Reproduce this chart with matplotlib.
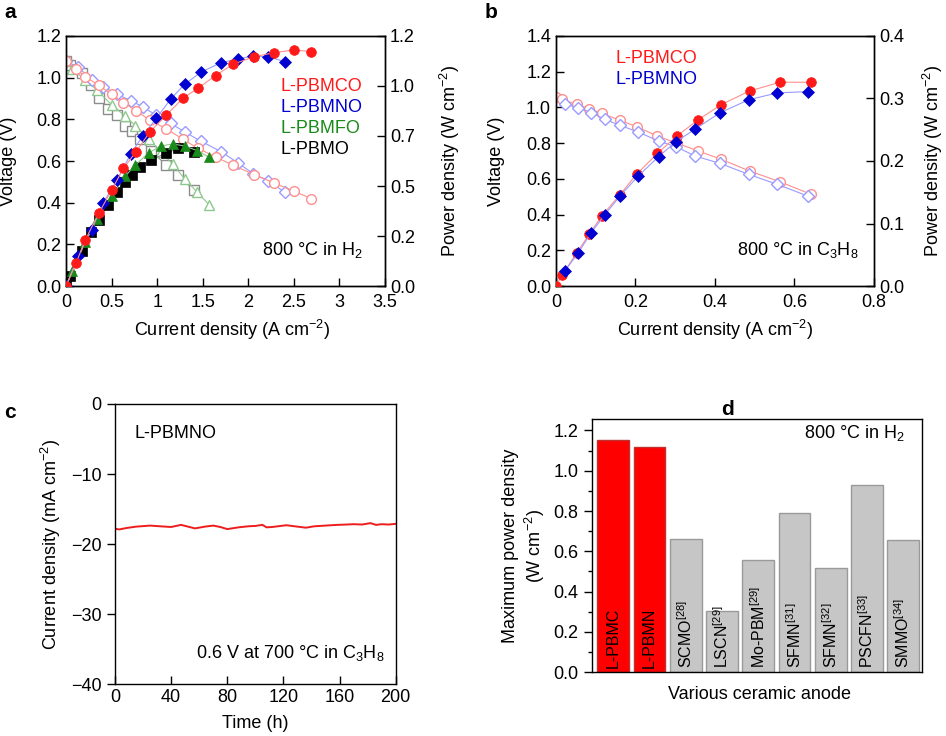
import numpy as np
import matplotlib
matplotlib.use("Agg")
import matplotlib.pyplot as plt

plt.rcParams['font.family'] = ['Liberation Sans', 'DejaVu Sans']
plt.rcParams['font.size'] = 13
plt.rcParams['mathtext.fontset'] = 'custom'
plt.rcParams['mathtext.rm'] = 'Liberation Sans'
plt.rcParams['mathtext.it'] = 'Liberation Sans:italic'
plt.rcParams['mathtext.bf'] = 'Liberation Sans:bold'
plt.rcParams['mathtext.default'] = 'regular'
plt.rcParams['axes.linewidth'] = 1.0

# ---- panel a : I-V-P curves at 800 C in H2 ----
a_pbmco_i = [0, 0.11, 0.21, 0.36, 0.5, 0.63, 0.77, 0.92, 1.10, 1.28, 1.45, 1.64, 1.83, 2.06, 2.28, 2.5, 2.69]
a_pbmco_v = [1.08, 1.04, 1.005, 0.963, 0.92, 0.88, 0.842, 0.795, 0.755, 0.705, 0.66, 0.62, 0.58, 0.535, 0.495, 0.455, 0.42]
a_pbmco_p = [0, 0.11, 0.22, 0.35, 0.46, 0.565, 0.645, 0.74, 0.82, 0.90, 0.95, 1.01, 1.064, 1.10, 1.12, 1.133, 1.125]

a_pbmno_i = [0, 0.135, 0.28, 0.41, 0.56, 0.71, 0.84, 0.99, 1.15, 1.30, 1.48, 1.70, 1.89, 2.05, 2.22, 2.40]
a_pbmno_v = [1.08, 1.05, 0.99, 0.955, 0.92, 0.89, 0.86, 0.82, 0.78, 0.74, 0.695, 0.645, 0.59, 0.54, 0.505, 0.45]
a_pbmno_p = [0, 0.144, 0.27, 0.40, 0.51, 0.634, 0.72, 0.805, 0.898, 0.968, 1.026, 1.072, 1.09, 1.104, 1.10, 1.077]

a_pbmfo_i = [0, 0.07, 0.21, 0.34, 0.5, 0.65, 0.76, 0.91, 1.04, 1.17, 1.30, 1.44, 1.57]
a_pbmfo_v = [1.08, 1.04, 0.99, 0.94, 0.87, 0.815, 0.77, 0.705, 0.645, 0.585, 0.515, 0.45, 0.39]
a_pbmfo_p = [0, 0.07, 0.21, 0.32, 0.43, 0.528, 0.58, 0.64, 0.672, 0.682, 0.672, 0.65, 0.618]

a_pbmo_i = [0, 0.04, 0.17, 0.27, 0.365, 0.46, 0.56, 0.65, 0.72, 0.81, 0.93, 1.10, 1.23, 1.40]
a_pbmo_v = [1.08, 1.06, 1.02, 0.965, 0.90, 0.85, 0.82, 0.77, 0.745, 0.705, 0.65, 0.58, 0.535, 0.46]
a_pbmo_p = [0, 0.05, 0.17, 0.26, 0.317, 0.39, 0.453, 0.498, 0.533, 0.57, 0.605, 0.637, 0.66, 0.645]

# ---- panel b : I-V-P curves at 800 C in C3H8 ----
b_pbmco_i = [0, 0.016, 0.052, 0.084, 0.115, 0.161, 0.203, 0.255, 0.304, 0.358, 0.415, 0.487, 0.563, 0.642]
b_pbmco_v = [1.06, 1.045, 1.017, 0.993, 0.967, 0.928, 0.892, 0.84, 0.80, 0.756, 0.71, 0.644, 0.584, 0.513]
b_pbmco_p = [0, 0.018, 0.053, 0.083, 0.112, 0.146, 0.179, 0.212, 0.24, 0.266, 0.29, 0.312, 0.326, 0.326]

b_pbmno_i = [0.023, 0.056, 0.088, 0.123, 0.161, 0.207, 0.258, 0.302, 0.35, 0.412, 0.485, 0.557, 0.633]
b_pbmno_v = [1.017, 0.999, 0.971, 0.933, 0.90, 0.862, 0.812, 0.78, 0.728, 0.687, 0.625, 0.569, 0.504]
b_pbmno_p = [0.0245, 0.053, 0.085, 0.114, 0.144, 0.176, 0.207, 0.231, 0.251, 0.277, 0.298, 0.309, 0.311]

# ---- panel c : stability at 0.6 V, 700 C in C3H8 ----
c_time = [0, 3, 8, 15, 25, 32, 40, 47, 52, 57, 64, 70, 75, 80, 88, 95, 100, 105, 108, 112,
          122, 128, 136, 142, 150, 158, 165, 170, 176, 182, 186, 190, 195, 200]
c_current = [-17.8, -17.9, -17.7, -17.5, -17.35, -17.45, -17.55, -17.25, -17.5, -17.75, -17.5, -17.35,
             -17.55, -17.85, -17.6, -17.45, -17.4, -17.25, -17.6, -17.55, -17.3, -17.45, -17.65, -17.45,
             -17.35, -17.25, -17.2, -17.15, -17.2, -17.0, -17.25, -17.15, -17.2, -17.1]

# ---- panel d : max power density comparison ----
d_names = ['L-PBMC', 'L-PBMN', 'SCMO$^{[28]}$', 'LSCN$^{[29]}$', 'Mo-PBM$^{[29]}$',
           'SFMN$^{[31]}$', 'SFMN$^{[32]}$', 'PSCFN$^{[33]}$', 'SMMO$^{[34]}$']
d_values = [1.15, 1.12, 0.66, 0.306, 0.557, 0.792, 0.519, 0.93, 0.657]
d_ours = [True, True, False, False, False, False, False, False, False]

RED = '#ff1a1a'
BLUE = '#0000d0'
GREEN = '#1a8a1a'
BLACK = '#000000'
LRED = '#ff8f8f'
LBLUE = '#9a9aff'
LGREEN = '#8fc88f'
LGRAY = '#8c8c8c'

fig = plt.figure(figsize=(9.46, 7.36), dpi=100)


def style_ticks(ax, direction):
    ax.tick_params(direction=direction, length=6, width=1.0, labelsize=13)


def iv_curve(ax, ax2, i, v, p, marker, col, lcol, ms):
    ax.plot(i, v, marker=marker, color=lcol, lw=0.8, ms=ms, mfc='white', mec=lcol, mew=1.0, zorder=2)
    ax2.plot(i, p, marker=marker, color=lcol, lw=0.8, ms=ms, mfc=col, mec=col, mew=0.5, zorder=3)


# ---------------- a ----------------
ax_a = fig.add_axes([0.0698, 0.6114, 0.3372, 0.3397])
ax_a2 = ax_a.twinx()
iv_curve(ax_a, ax_a2, a_pbmo_i, a_pbmo_v, a_pbmo_p, 's', BLACK, LGRAY, 6.5)
iv_curve(ax_a, ax_a2, a_pbmfo_i, a_pbmfo_v, a_pbmfo_p, '^', GREEN, LGREEN, 6.5)
iv_curve(ax_a, ax_a2, a_pbmno_i, a_pbmno_v, a_pbmno_p, 'D', BLUE, LBLUE, 6)
iv_curve(ax_a, ax_a2, a_pbmco_i, a_pbmco_v, a_pbmco_p, 'o', RED, LRED, 7)
ax_a.set_xlim(0, 3.5)
ax_a.set_ylim(0, 1.2)
ax_a2.set_ylim(0, 1.2)
ax_a.set_xticks(np.arange(0, 3.51, 0.5))
ax_a.set_xticklabels(['0', '0.5', '1', '1.5', '2', '2.5', '3', '3.5'])
ax_a.set_yticks(np.arange(0, 1.21, 0.2))
ax_a.set_yticklabels(['%.1f' % t for t in np.arange(0, 1.21, 0.2)])
a_right = np.linspace(0, 1.2, 6)
ax_a2.set_yticks(a_right)
ax_a2.set_yticklabels(['%.1f' % t for t in a_right])
style_ticks(ax_a, 'in')
style_ticks(ax_a2, 'in')
ax_a.tick_params(axis='x', pad=6)
ax_a.set_xlabel('Current density (A cm$^{-2}$)')
ax_a.set_ylabel('Voltage (V)')
ax_a2.set_ylabel('Power density (W cm$^{-2}$)')
ax_a.xaxis.set_label_coords(0.52, -0.128)
ax_a.yaxis.set_label_coords(-0.153, 0.5)
ax_a2.yaxis.set_label_coords(1.166, 0.5)
for y, name, col in zip([0.797, 0.714, 0.631, 0.545],
                        ['L-PBMCO', 'L-PBMNO', 'L-PBMFO', 'L-PBMO'],
                        [RED, BLUE, GREEN, BLACK]):
    ax_a.text(0.671, y, name, color=col, transform=ax_a.transAxes, ha='left', va='center', fontsize=13)
ax_a.text(0.931, 0.144, '800 °C in H$_2$', transform=ax_a.transAxes, ha='right', va='center', fontsize=13)

# ---------------- b ----------------
ax_b = fig.add_axes([0.5877, 0.6114, 0.3362, 0.3397])
ax_b2 = ax_b.twinx()
iv_curve(ax_b, ax_b2, b_pbmco_i, b_pbmco_v, b_pbmco_p, 'o', RED, LRED, 7)
iv_curve(ax_b, ax_b2, b_pbmno_i, b_pbmno_v, b_pbmno_p, 'D', BLUE, LBLUE, 6)
ax_b.set_xlim(0, 0.8)
ax_b.set_ylim(0, 1.4)
ax_b2.set_ylim(0, 0.4)
ax_b.set_xticks(np.arange(0, 0.81, 0.2))
ax_b.set_xticklabels(['0', '0.2', '0.4', '0.6', '0.8'])
ax_b.set_yticks(np.arange(0, 1.41, 0.2))
ax_b.set_yticklabels(['%.1f' % t for t in np.arange(0, 1.41, 0.2)])
ax_b2.set_yticks(np.arange(0, 0.41, 0.1))
ax_b2.set_yticklabels(['%.1f' % t for t in np.arange(0, 0.41, 0.1)])
style_ticks(ax_b, 'in')
style_ticks(ax_b2, 'in')
ax_b.tick_params(axis='x', pad=6)
ax_b.set_xlabel('Current density (A cm$^{-2}$)')
ax_b.set_ylabel('Voltage (V)')
ax_b2.set_ylabel('Power density (W cm$^{-2}$)')
ax_b.xaxis.set_label_coords(0.5, -0.128)
ax_b.yaxis.set_label_coords(-0.16, 0.5)
ax_b2.yaxis.set_label_coords(1.148, 0.5)
ax_b.text(0.186, 0.911, 'L-PBMCO', color=RED, transform=ax_b.transAxes, ha='left', va='center', fontsize=13)
ax_b.text(0.186, 0.824, 'L-PBMNO', color=BLUE, transform=ax_b.transAxes, ha='left', va='center', fontsize=13)
ax_b.text(0.951, 0.144, '800 °C in C$_3$H$_8$', transform=ax_b.transAxes, ha='right', va='center', fontsize=13)

# ---------------- c ----------------
ax_c = fig.add_axes([0.1216, 0.0702, 0.2967, 0.3809])
ax_c.plot(c_time, c_current, color='#ee1c1c', lw=1.4)
ax_c.set_xlim(0, 200)
ax_c.set_ylim(-40, 0)
ax_c.set_xticks(np.arange(0, 201, 40))
ax_c.set_yticks(np.arange(-40, 1, 10))
ax_c.tick_params(axis='y', direction='out', length=6, width=1.0, labelsize=13)
ax_c.tick_params(axis='x', direction='in', length=6, width=1.0, labelsize=13)
ax_c.set_xlabel('Time (h)')
ax_c.set_ylabel('Current density (mA cm$^{-2}$)')
ax_c.xaxis.set_label_coords(0.5, -0.11)
ax_c.yaxis.set_label_coords(-0.185, 0.5)
ax_c.text(0.071, 0.895, 'L-PBMNO', transform=ax_c.transAxes, ha='left', va='center', fontsize=13)
ax_c.text(0.962, 0.111, '0.6 V at 700 °C in C$_3$H$_8$', transform=ax_c.transAxes,
          ha='right', va='center', fontsize=13)

# ---------------- d ----------------
ax_d = fig.add_axes([0.6255, 0.0866, 0.3495, 0.3442])
xpos = np.arange(len(d_values))
fills = ['#ff0000' if o else '#c6c6c6' for o in d_ours]
edges = ['#c03030' if o else '#9a9a9a' for o in d_ours]
ax_d.bar(xpos, d_values, width=0.875, color=fills, edgecolor=edges, linewidth=1.0)
for x, name in zip(xpos, d_names):
    ax_d.text(x, 0.02, name, rotation=90, ha='center', va='bottom', fontsize=11.5)
ax_d.set_xlim(-0.594, 8.53)
ax_d.set_ylim(0, 1.257)
ax_d.set_xticks([])
ax_d.set_yticks(np.arange(0, 1.21, 0.2))
ax_d.set_yticklabels(['%.1f' % t for t in np.arange(0, 1.21, 0.2)])
ax_d.set_yticks(np.arange(0.1, 1.21, 0.2), minor=True)
ax_d.tick_params(axis='y', which='major', direction='out', length=6, width=1.0, labelsize=13)
ax_d.tick_params(axis='y', which='minor', direction='out', length=3, width=1.0)
ax_d.set_xlabel('Various ceramic anode')
ax_d.set_ylabel('Maximum power density\n(W cm$^{-2}$)', linespacing=1.2)
ax_d.xaxis.set_label_coords(0.506, -0.055)
ax_d.yaxis.set_label_coords(-0.135, 0.5)
ax_d.text(0.948, 0.985, '800 °C in H$_2$', transform=ax_d.transAxes, ha='right', va='top', fontsize=13)

# panel letters
for x, y, lab in [(10, 12, 'a'), (491, 12, 'b'), (10, 412, 'c'), (727, 409, 'd')]:
    fig.text(x / 946, 1 - y / 736, lab, fontsize=15, fontweight='bold', ha='center', va='center')

fig.savefig('out.png', dpi=100)
